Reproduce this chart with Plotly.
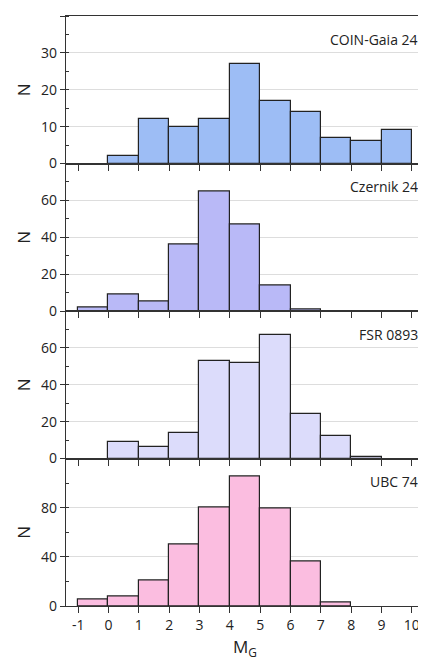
import plotly.graph_objects as go
from plotly.subplots import make_subplots

# bin centres for M_G bins of width 1 from -1 to 10
bin_centres = [-0.5, 0.5, 1.5, 2.5, 3.5, 4.5, 5.5, 6.5, 7.5, 8.5, 9.5]

coin_gaia_24 = [None, 2, 12, 10, 12, 27, 17, 14, 7, 6, 9]
czernik_24 = [2, 9, 5, 36, 65, 47, 14, 1, None, None, None]
fsr_0893 = [None, 9, 6, 14, 53, 52, 67, 24, 12, 1, None]
ubc_74 = [5, 8, 21, 50, 80, 105, 79, 36, 3, None, None]

names = ["COIN-Gaia 24", "Czernik 24", "FSR 0893", "UBC 74"]
counts = [coin_gaia_24, czernik_24, fsr_0893, ubc_74]
colors = ["#9dbdf5", "#b9b9f7", "#dcdcfb", "#fbbde0"]
yranges = [40, 80, 80, 120]
ydticks = [10, 20, 20, 40]
x_ticks = list(range(-1, 11))
x_labels = [str(v) for v in x_ticks]

fig = make_subplots(rows=4, cols=1, shared_xaxes=True, vertical_spacing=0)

for i in range(4):
    r = i + 1
    top = yranges[i] if i == 0 else yranges[i] - ydticks[i]
    yt = list(range(0, top + 1, ydticks[i]))
    fig.add_trace(go.Bar(x=bin_centres, y=counts[i], width=1,
                         marker=dict(color=colors[i], line=dict(color="#222", width=1.2)),
                         showlegend=False), row=r, col=1)
    fig.update_yaxes(range=[0, yranges[i]], tickvals=yt, row=r, col=1,
                     showgrid=True, gridcolor="#dddddd", zeroline=False,
                     ticks="outside", ticklen=5, tickcolor="#333",
                     minor=dict(ticks="inside", ticklen=3, dtick=ydticks[i] / 2, tickcolor="#333", showgrid=False),
                     showline=True, linecolor="#333", linewidth=1.2, mirror=True,
                     title=dict(text="N", font=dict(size=17), standoff=6),
                     tickfont=dict(size=14, color="#222"))
    fig.update_xaxes(range=[-1.4, 10.4], tickvals=x_ticks, ticktext=x_labels, row=r, col=1,
                     showgrid=False, zeroline=False, ticks="outside", ticklen=6, tickcolor="#333",
                     showline=True, linecolor="#333", linewidth=1.2, mirror=True,
                     tickfont=dict(size=14, color="#222"))
    fig.add_annotation(text=names[i], x=0.99, y=0.92, xref=f"x{'' if r == 1 else r} domain",
                       yref=f"y{'' if r == 1 else r} domain", xanchor="right", yanchor="top",
                       showarrow=False, font=dict(size=14, color="#222"))

fig.update_xaxes(title=dict(text="M<sub>G</sub>", font=dict(size=17), standoff=8), row=4, col=1)

fig.update_layout(width=426, height=668, margin=dict(l=58, r=10, t=8, b=70),
                  plot_bgcolor="white", paper_bgcolor="white", bargap=0,
                  font=dict(family="Open Sans, DejaVu Sans", color="#222"))

fig.write_html("out.html")
